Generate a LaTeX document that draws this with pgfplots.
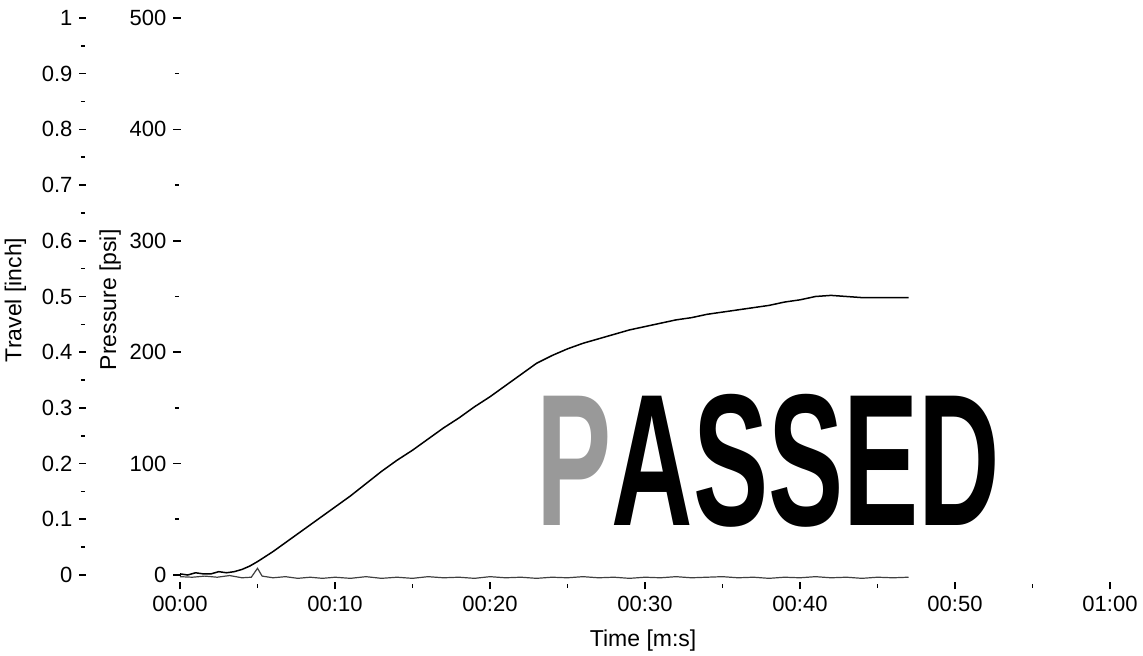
\documentclass[border=0pt]{standalone}
\usepackage{fontspec}
\setmainfont{Liberation Sans}
\usepackage{graphicx}
\usepackage{pgfplots}
\pgfplotsset{compat=1.18}

% pressure record, psi over seconds
\pgfplotstableread{
t p
0.0 1
0.5 0
1.0 2
1.5 1
2.0 1
2.5 3
3.0 2
3.5 3
4.0 5
4.5 8
5.0 12
6.0 21
7.0 31
8.0 41
9.0 51
10.0 61
11.0 71
12.0 82
13.0 93
14.0 103
15.0 112
16.0 122
17.0 132
18.0 141
19.0 151
20.0 160
21.0 170
22.0 180
23.0 190
24.0 197
25.0 203
26.0 208
27.0 212
28.0 216
29.0 220
30.0 223
31.0 226
32.0 229
33.0 231
34.0 234
35.0 236
36.0 238
37.0 240
38.0 242
39.0 245
40.0 247
41.0 250
42.0 251
43.0 250
44.0 249
45.0 249
46.0 249
47.0 249
}\pressure

% travel record, inch over seconds
\pgfplotstableread{
t s
0.0 -0.003
0.8 -0.004
1.6 -0.002
2.4 -0.004
3.2 -0.001
4.0 -0.005
4.6 -0.004
5.0 0.012
5.3 -0.002
6.0 -0.005
6.8 -0.003
7.6 -0.006
8.4 -0.004
9.2 -0.006
10.0 -0.004
11.0 -0.006
12.0 -0.003
13.0 -0.006
14.0 -0.004
15.0 -0.006
16.0 -0.003
17.0 -0.005
18.0 -0.004
19.0 -0.006
20.0 -0.003
21.0 -0.005
22.0 -0.004
23.0 -0.006
24.0 -0.004
25.0 -0.005
26.0 -0.003
27.0 -0.005
28.0 -0.004
29.0 -0.006
30.0 -0.004
31.0 -0.005
32.0 -0.003
33.0 -0.005
34.0 -0.004
35.0 -0.003
36.0 -0.005
37.0 -0.004
38.0 -0.006
39.0 -0.004
40.0 -0.005
41.0 -0.003
42.0 -0.005
43.0 -0.004
44.0 -0.006
45.0 -0.004
46.0 -0.005
47.0 -0.004
}\travel

\pgfplotsset{
  scan/.style={
    width=465pt, height=278.5pt, scale only axis,
    at={(0,0)}, anchor=south west,
    xmin=0, xmax=60, clip=false,
    axis line style={draw=none,-},
    tick align=outside,
    major tick length=3.5pt, minor tick length=2pt,
    every tick/.style={black, line width=0.8pt},
    tick label style={font=\fontsize{11}{13}\selectfont},
    /pgf/number format/assume math mode=true,
    label style={font=\fontsize{11.5}{13}\selectfont},
  },
}

\begin{document}
\begin{tikzpicture}
\path[use as bounding box] (-90pt,-40.5pt) rectangle (481.5pt,287.5pt);

% pressure axis with time axis
\begin{axis}[scan,
  axis x line=bottom, axis y line=left,
  axis x line shift=5.5pt, axis y line shift=1.5pt,
  ymin=0, ymax=500,
  ytick={0,100,...,500}, minor y tick num=1,
  xtick={0,10,...,60}, minor x tick num=1,
  xticklabels={00:00,00:10,00:20,00:30,00:40,00:50,01:00},
  xlabel={Time [m:s]},
  xlabel style={at={(axis description cs:0.498,-0.117)}, anchor=center},
  ylabel={Pressure [psi]},
  ylabel style={at={(axis description cs:-0.075,0.494)}, anchor=center, rotate=0},
]
\addplot[black, line width=0.75pt] table[x=t, y=p] {\pressure};
\node[inner sep=0, anchor=center] at (axis cs:37.97,102.8)
  {\scalebox{0.60}[1]{\fontsize{94}{94}\selectfont\bfseries{\color{black!40}P}ASSED}};
\end{axis}

% travel axis
\begin{axis}[scan,
  axis x line=none, axis y line=left,
  axis y line shift=48.5pt,
  ymin=0, ymax=1,
  ytick={0,0.1,...,1}, minor y tick num=1,
  ylabel={Travel [inch]},
  ylabel style={at={(axis description cs:-0.177,0.494)}, anchor=center},
]
\addplot[black!75, line width=0.6pt] table[x=t, y=s] {\travel};
\end{axis}
\end{tikzpicture}
\end{document}
